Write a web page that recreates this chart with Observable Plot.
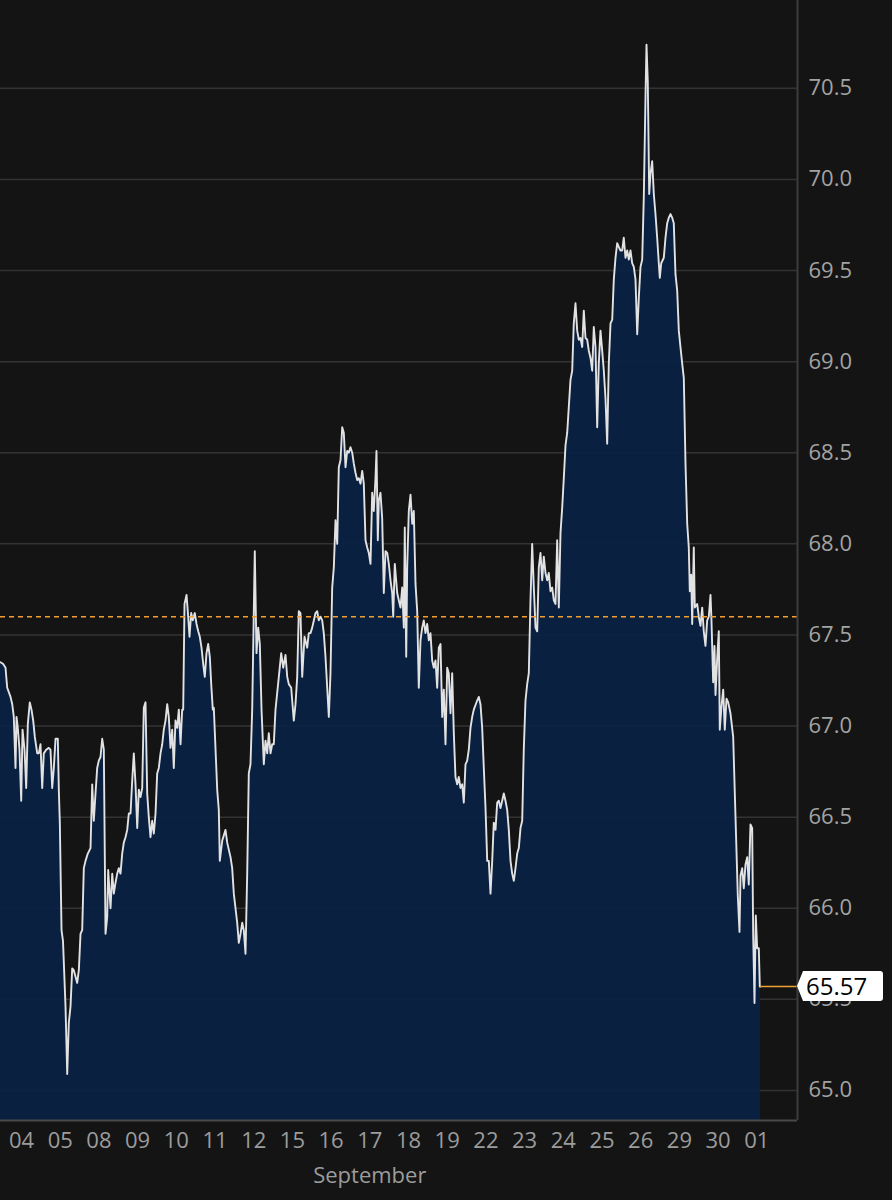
<!DOCTYPE html>
<html>
<head>
<meta charset="utf-8">
<script src="https://cdn.jsdelivr.net/npm/d3@7"></script>
<script src="https://cdn.jsdelivr.net/npm/@observablehq/plot@0.6"></script>
<style>
  html, body { margin: 0; padding: 0; background: #141414; }
  #chart svg { display: block; }
</style>
</head>
<body>
<div id="chart"></div>
<script>
// ---- Data ----
const dayLabels = ["04","05","08","09","10","11","12","15","16","17","18","19","22","23","24","25","26","29","30","01"];
const monthLabel = "September";
const priceTicks = [65.0, 65.5, 66.0, 66.5, 67.0, 67.5, 68.0, 68.5, 69.0, 69.5, 70.0, 70.5];
const referenceLevel = 67.6;
const lastPrice = 65.57;
const priceDomain = [64.835, 70.982];
const sessionDomain = [-0.543, 20.052];
// [trading-day position (0 = start of "04"), price]
const pricePoints = [
[-0.543,67.35],[-0.473,67.34],[-0.413,67.32],[-0.370,67.21],[-0.284,67.16],[-0.240,67.12],[-0.199,67.05],[-0.155,66.77],[-0.129,67.05],[-0.096,66.99],
[-0.052,66.87],[-0.008,66.59],[0.026,66.98],[0.078,66.87],[0.121,66.66],[0.163,67.01],[0.214,67.13],[0.258,67.09],[0.302,67.03],[0.344,66.94],
[0.406,66.85],[0.447,66.85],[0.491,66.90],[0.535,66.66],[0.576,66.85],[0.638,66.87],[0.705,66.88],[0.749,66.87],[0.793,66.66],[0.835,66.77],
[0.879,66.93],[0.938,66.93],[0.964,66.65],[0.990,66.47],[1.034,65.88],[1.072,65.82],[1.137,65.46],[1.181,65.09],[1.222,65.37],[1.266,65.46],
[1.310,65.67],[1.351,65.66],[1.439,65.59],[1.481,65.66],[1.525,65.86],[1.568,65.88],[1.610,66.22],[1.654,66.26],[1.713,66.30],[1.783,66.33],
[1.827,66.68],[1.868,66.48],[1.912,66.63],[1.956,66.77],[1.997,66.81],[2.041,66.83],[2.085,66.93],[2.127,66.87],[2.171,65.86],[2.214,65.95],
[2.240,66.21],[2.300,66.00],[2.344,66.19],[2.385,66.08],[2.429,66.14],[2.473,66.19],[2.514,66.22],[2.558,66.19],[2.602,66.30],[2.643,66.36],
[2.687,66.39],[2.731,66.43],[2.773,66.52],[2.817,66.52],[2.860,66.70],[2.902,66.85],[2.946,66.68],[2.990,66.44],[3.031,66.65],[3.075,66.61],
[3.119,66.66],[3.160,67.10],[3.204,67.13],[3.248,66.63],[3.289,66.50],[3.333,66.39],[3.377,66.48],[3.419,66.41],[3.463,66.52],[3.506,66.74],
[3.548,66.77],[3.592,66.85],[3.636,66.90],[3.677,66.98],[3.721,67.03],[3.765,67.12],[3.806,67.05],[3.850,66.88],[3.894,66.98],[3.935,66.77],
[3.979,67.03],[4.023,66.99],[4.065,67.09],[4.109,66.90],[4.152,67.09],[4.178,67.09],[4.212,67.67],[4.264,67.72],[4.297,67.63],[4.341,67.49],
[4.385,67.62],[4.426,67.58],[4.478,67.62],[4.522,67.56],[4.566,67.52],[4.607,67.49],[4.651,67.43],[4.695,67.34],[4.736,67.27],[4.780,67.40],
[4.824,67.45],[4.866,67.38],[4.902,67.23],[4.943,67.09],[4.969,67.10],[5.057,66.65],[5.098,66.54],[5.124,66.26],[5.186,66.37],[5.271,66.43],
[5.315,66.36],[5.401,66.28],[5.444,66.22],[5.486,66.08],[5.574,65.92],[5.615,65.81],[5.659,65.86],[5.703,65.92],[5.744,65.88],[5.788,65.75],
[5.832,66.19],[5.873,66.74],[5.917,66.79],[5.961,67.09],[6.028,67.96],[6.072,67.40],[6.116,67.54],[6.158,67.45],[6.202,67.09],[6.261,66.79],
[6.305,66.92],[6.349,66.85],[6.390,66.96],[6.434,66.85],[6.478,66.90],[6.519,66.90],[6.563,67.09],[6.649,67.27],[6.711,67.40],[6.762,67.32],
[6.822,67.39],[6.866,67.27],[6.907,67.23],[6.969,67.21],[7.036,67.03],[7.080,67.12],[7.124,67.27],[7.165,67.63],[7.209,67.62],[7.253,67.27],
[7.313,67.49],[7.382,67.43],[7.424,67.51],[7.468,67.51],[7.512,67.54],[7.597,67.62],[7.641,67.63],[7.682,67.58],[7.726,67.60],[7.770,67.58],
[7.811,67.51],[7.855,67.38],[7.899,67.21],[7.941,67.05],[7.984,67.29],[8.028,67.76],[8.070,67.87],[8.114,68.13],[8.158,68.00],[8.199,68.42],
[8.243,68.46],[8.287,68.64],[8.328,68.61],[8.372,68.42],[8.416,68.51],[8.457,68.50],[8.501,68.53],[8.545,68.50],[8.587,68.44],[8.630,68.39],
[8.674,68.35],[8.716,68.36],[8.760,68.33],[8.804,68.40],[8.845,68.33],[8.889,68.02],[8.933,67.98],[8.974,67.95],[9.018,67.89],[9.062,68.28],
[9.103,68.18],[9.147,68.36],[9.173,68.51],[9.207,68.02],[9.233,68.24],[9.276,68.28],[9.320,68.14],[9.362,67.73],[9.406,67.96],[9.450,67.95],
[9.491,67.89],[9.535,67.80],[9.579,67.73],[9.605,67.60],[9.646,67.89],[9.708,67.73],[9.749,67.69],[9.793,67.65],[9.837,67.76],[9.879,67.54],
[9.904,68.09],[9.941,67.38],[9.966,67.87],[10.008,68.18],[10.052,68.27],[10.096,68.11],[10.137,68.18],[10.181,67.78],[10.225,67.63],[10.266,67.21],
[10.310,67.47],[10.354,67.54],[10.395,67.58],[10.439,67.51],[10.483,67.56],[10.525,67.47],[10.568,67.51],[10.612,67.36],[10.654,67.32],[10.698,67.36],
[10.741,67.21],[10.783,67.43],[10.827,67.45],[10.871,67.05],[10.912,67.20],[10.956,66.90],[11.000,67.32],[11.041,67.29],[11.085,67.07],[11.129,67.29],
[11.171,66.96],[11.214,66.72],[11.258,66.68],[11.300,66.72],[11.344,66.66],[11.387,66.68],[11.429,66.58],[11.473,66.79],[11.517,66.81],[11.558,66.87],
[11.602,66.99],[11.646,67.05],[11.687,67.09],[11.775,67.14],[11.817,67.16],[11.860,67.12],[11.904,66.99],[11.946,66.77],[11.990,66.55],[12.034,66.26],
[12.075,66.26],[12.119,66.08],[12.163,66.26],[12.204,66.47],[12.248,66.43],[12.292,66.58],[12.333,66.59],[12.377,66.55],[12.421,66.59],[12.463,66.63],
[12.506,66.59],[12.550,66.54],[12.592,66.43],[12.636,66.26],[12.679,66.19],[12.721,66.15],[12.765,66.22],[12.809,66.30],[12.850,66.33],[12.894,66.44],
[12.938,66.48],[12.979,66.87],[13.023,67.14],[13.067,67.23],[13.109,67.29],[13.152,67.69],[13.196,68.00],[13.238,67.76],[13.282,67.54],[13.326,67.52],
[13.367,67.87],[13.411,67.95],[13.455,67.80],[13.496,67.93],[13.540,67.84],[13.584,67.80],[13.625,67.84],[13.669,67.74],[13.713,67.76],[13.755,67.69],
[13.798,67.67],[13.842,68.02],[13.884,67.65],[13.928,68.06],[13.972,68.20],[14.013,68.36],[14.057,68.54],[14.101,68.61],[14.186,68.90],[14.230,68.95],
[14.271,69.21],[14.315,69.32],[14.359,69.17],[14.401,69.12],[14.444,69.13],[14.488,69.08],[14.530,69.28],[14.574,69.13],[14.618,69.12],[14.659,69.06],
[14.703,69.02],[14.747,68.95],[14.788,69.19],[14.832,69.08],[14.876,68.64],[14.917,68.99],[14.961,69.17],[15.005,69.06],[15.047,68.95],[15.090,68.80],
[15.134,68.55],[15.176,68.99],[15.220,69.21],[15.264,69.23],[15.305,69.45],[15.349,69.57],[15.393,69.65],[15.434,69.63],[15.478,69.61],[15.522,69.61],
[15.563,69.68],[15.607,69.57],[15.651,69.61],[15.693,69.56],[15.736,69.61],[15.780,69.54],[15.822,69.52],[15.866,69.45],[15.910,69.15],[15.951,69.35],
[15.995,69.52],[16.039,69.56],[16.080,69.90],[16.124,70.45],[16.150,70.74],[16.183,70.54],[16.220,69.92],[16.253,70.03],[16.297,70.10],[16.339,69.92],
[16.382,69.81],[16.426,69.68],[16.468,69.54],[16.494,69.46],[16.530,69.54],[16.597,69.57],[16.641,69.68],[16.685,69.76],[16.726,69.79],[16.770,69.81],
[16.814,69.79],[16.855,69.76],[16.899,69.48],[16.943,69.39],[16.985,69.17],[17.028,69.08],[17.072,68.99],[17.114,68.91],[17.158,68.44],[17.202,68.11],
[17.243,67.98],[17.269,67.74],[17.305,67.83],[17.331,67.56],[17.372,67.98],[17.398,67.65],[17.460,67.67],[17.501,67.60],[17.545,67.55],[17.589,67.65],
[17.630,67.52],[17.674,67.44],[17.718,67.58],[17.760,67.60],[17.804,67.72],[17.829,67.58],[17.873,67.24],[17.907,67.44],[17.933,67.17],[17.977,67.37],
[18.018,67.52],[18.044,66.98],[18.088,67.11],[18.132,67.20],[18.173,66.98],[18.217,67.15],[18.261,67.13],[18.320,67.07],[18.390,66.94],[18.450,66.50],
[18.509,66.07],[18.553,65.87],[18.579,66.18],[18.623,66.22],[18.664,66.11],[18.708,66.24],[18.752,66.28],[18.793,66.13],[18.837,66.46],[18.881,66.44],
[18.907,65.85],[18.941,65.48],[18.974,65.96],[19.010,65.78],[19.052,65.78],[19.078,65.57],[19.096,65.57]
];

// ---- Table built from the arrays ----
const series = pricePoints.map(([pos, price]) => ({pos, price}));
const lastPos = series[series.length - 1].pos;
const dayPositions = dayLabels.map((_, i) => i);
const monthCenter = d3.mean(dayPositions.slice(0, dayLabels.length - 1));

const FONT = "'Open Sans', 'Noto Sans', sans-serif";
const BG = "#141414";

// Custom mark: white price tag pointing at the last price, on the right axis
function lastPriceTag(index, scales, values, dimensions) {
  const y = scales.y(lastPrice);
  const x0 = dimensions.width - dimensions.marginRight;
  const h = 30, w = 86, p = 6, r = 3;
  const g = d3.create("svg:g");
  g.append("path")
    .attr("d", `M${x0},${y} L${x0 + p},${y - h / 2} H${x0 + w - r} Q${x0 + w},${y - h / 2} ${x0 + w},${y - h / 2 + r} V${y + h / 2 - r} Q${x0 + w},${y + h / 2} ${x0 + w - r},${y + h / 2} H${x0 + p} Z`)
    .attr("fill", "#ffffff");
  g.append("text")
    .attr("x", x0 + p + 3)
    .attr("y", y)
    .attr("dy", "0.36em")
    .attr("text-anchor", "start")
    .attr("fill", "#000000")
    .attr("font-family", FONT)
    .attr("font-size", 24)
    .text(lastPrice.toFixed(2));
  return g.node();
}

const chart = Plot.plot({
  width: 892,
  height: 1200,
  marginTop: 0,
  marginLeft: 0,
  marginRight: 95,
  marginBottom: 80,
  style: {background: BG, color: "#a0a0a0", fontFamily: FONT, overflow: "visible"},
  x: {domain: sessionDomain, range: [0, 797]},
  y: {domain: priceDomain},
  marks: [
    Plot.gridY(priceTicks, {stroke: "#333333", strokeOpacity: 1, strokeWidth: 1.5}),
    Plot.areaY(series, {x: "pos", y1: () => priceDomain[0], y2: "price", fill: "#0a2145", fillOpacity: 0.93, curve: "linear"}),
    Plot.lineY(series, {x: "pos", y: "price", stroke: "#e2e2e2", strokeWidth: 1.9, curve: "linear"}),
    Plot.ruleY([referenceLevel], {stroke: "#f0a030", strokeWidth: 1.5, strokeDasharray: "5,4"}),
    Plot.ruleY([lastPrice], {x1: lastPos, x2: sessionDomain[1], stroke: "#f0a030", strokeWidth: 1.5}),
    Plot.ruleY([priceDomain[0]], {stroke: "#4a4a4a", strokeWidth: 2}),
    Plot.ruleX([sessionDomain[1]], {stroke: "#3c3c3c", strokeWidth: 2}),
    Plot.axisY(priceTicks, {anchor: "right", tickSize: 0, tickPadding: 11, fontSize: 22, fill: "#a3a3a3", tickFormat: d3.format(".1f"), label: null}),
    Plot.axisX(dayPositions, {anchor: "bottom", tickSize: 0, tickPadding: 12, fontSize: 22, fill: "#9c9c9c", tickFormat: (i) => dayLabels[i], label: null}),
    Plot.text([monthLabel], {x: () => monthCenter, frameAnchor: "bottom", dy: 62, text: (d) => d, fontSize: 22, fill: "#9c9c9c"}),
    lastPriceTag
  ]
});
document.getElementById("chart").appendChild(chart);
</script>
</body>
</html>
